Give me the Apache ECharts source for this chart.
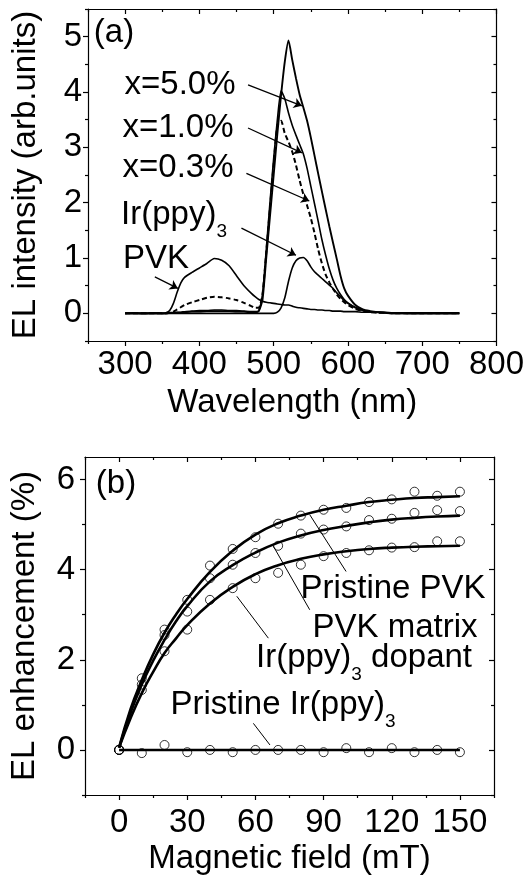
<!DOCTYPE html>
<html>
<head>
<meta charset="utf-8">
<script src="https://cdn.jsdelivr.net/npm/echarts@6/dist/echarts.min.js"></script>
<style>
  html, body { margin: 0; padding: 0; background: #fff; }
  #chart { width: 527px; height: 876px; }
</style>
</head>
<body>
<div id="chart"></div>
<script>
// ---------- (a) EL spectra ----------
const wavelength = [300,310,320,330,340,350,355,360,365,370,375,380,390,400,410,420,430,440,450,460,470,475,480,485,490,495,500,505,510,515,520,525,530,535,540,545,550,555,560,565,570,575,580,585,590,595,600,610,620,630,640,650,660,680,700,720,750];
const elPVK  = [0.00,0.01,0.00,0.00,0.01,0.00,0.01,0.05,0.18,0.38,0.55,0.65,0.74,0.82,0.90,0.99,0.96,0.86,0.68,0.50,0.36,0.30,0.25,0.22,0.20,0.19,0.18,0.17,0.16,0.15,0.15,0.13,0.11,0.10,0.09,0.08,0.07,0.07,0.06,0.06,0.05,0.05,0.04,0.04,0.04,0.03,0.03,0.03,0.02,0.02,0.02,0.02,0.01,0.01,0.01,0.01,0.01];
const elIr   = [0.00,0.00,0.00,0.00,0.00,0.00,0.00,0.00,0.00,0.00,0.00,0.00,0.00,0.00,0.00,0.00,0.00,0.00,0.00,0.00,0.00,0.00,0.00,0.00,0.00,0.00,0.00,0.02,0.10,0.28,0.58,0.82,0.95,1.00,1.01,0.95,0.84,0.75,0.69,0.63,0.57,0.51,0.45,0.37,0.30,0.23,0.18,0.10,0.05,0.03,0.02,0.01,0.01,0.00,0.00,0.00,0.00];
const elX03  = [0.00,0.00,0.00,0.00,0.00,0.00,0.00,0.01,0.03,0.07,0.11,0.15,0.20,0.24,0.28,0.30,0.29,0.27,0.24,0.19,0.13,0.10,0.10,0.35,1.10,1.90,2.70,3.40,3.48,3.25,3.10,2.92,2.68,2.40,2.15,1.95,1.72,1.45,1.15,0.90,0.70,0.56,0.44,0.34,0.26,0.20,0.15,0.08,0.04,0.02,0.01,0.01,0.00,0.00,0.00,0.00,0.00];
const elX10  = [0.00,0.00,0.00,0.00,0.00,0.00,0.00,0.01,0.01,0.02,0.02,0.03,0.04,0.05,0.05,0.06,0.06,0.05,0.05,0.04,0.03,0.03,0.05,0.35,1.15,2.00,2.80,3.50,4.02,3.88,3.62,3.40,3.22,3.05,2.88,2.62,2.30,1.98,1.66,1.33,1.05,0.80,0.60,0.45,0.34,0.25,0.19,0.11,0.06,0.03,0.02,0.01,0.00,0.00,0.00,0.00,0.00];
const elX50  = [0.00,0.00,0.00,0.00,0.00,0.00,0.00,0.01,0.01,0.01,0.01,0.02,0.03,0.03,0.04,0.04,0.04,0.04,0.03,0.03,0.02,0.02,0.04,0.25,1.00,1.75,2.50,3.25,3.95,4.55,4.93,4.58,4.25,3.95,3.72,3.48,3.18,2.85,2.52,2.20,1.88,1.57,1.27,0.98,0.68,0.45,0.32,0.15,0.07,0.04,0.02,0.01,0.00,0.00,0.00,0.00,0.00];
const wlMajorTicks  = [300,400,500,600,700,800];
const wlMinorTicks  = [250,350,450,550,650,750];
const elMajorTicks  = [0,1,2,3,4,5];
const elMinorTicks  = [-0.5,0.5,1.5,2.5,3.5,4.5,5.5];

// ---------- (b) magnetic-field dependence ----------
const field       = [0,10,20,30,40,50,60,70,80,90,100,110,120,130,140,150];
const mfePVK      = [0,1.59,2.67,3.33,4.09,4.46,4.72,5.02,5.20,5.33,5.37,5.50,5.56,5.73,5.64,5.73];
const mfeMatrix   = [0,1.45,2.55,3.07,3.81,4.11,4.37,4.53,4.80,4.89,4.96,5.10,5.13,5.26,5.32,5.30];
const mfeDopant   = [0,1.33,2.19,2.67,3.33,3.59,3.81,3.93,4.11,4.30,4.37,4.43,4.49,4.50,4.63,4.63];
const mfeIr       = [0,-0.07,0.11,-0.05,0.00,-0.05,0.00,0.00,0.00,-0.05,0.04,-0.05,0.04,-0.05,0.00,-0.05];
const fitField    = [0,5,10,15,20,25,30,40,50,60,70,80,90,100,110,120,130,140,150];
const fitPVK      = [0.05,0.90,1.55,2.12,2.60,3.00,3.35,3.95,4.42,4.78,5.03,5.20,5.33,5.42,5.50,5.55,5.59,5.61,5.63];
const fitMatrix   = [0.05,0.82,1.45,1.98,2.44,2.85,3.19,3.74,4.10,4.38,4.60,4.76,4.88,4.97,5.05,5.11,5.15,5.18,5.20];
const fitDopant   = [0.05,0.70,1.26,1.73,2.15,2.47,2.77,3.25,3.62,3.90,4.10,4.24,4.34,4.41,4.46,4.49,4.51,4.52,4.53];
const fitIrField  = [0,150];
const fitIr       = [0,0];
const fieldMajorTicks = [0,30,60,90,120,150];
const fieldMinorTicks = [-15,15,45,75,105,135,165];
const enhMajorTicks   = [0,2,4,6];
const enhMinorTicks   = [-1,1,3,5];

const FONT = 'Liberation Sans';
const FS = 33;
const black = '#000';
const lineStyle = { color: black, width: 1.2 };

function pairs(xs, ys) { return xs.map((x, i) => [x, ys[i]]); }

// four axes per side: main (labels + major ticks), minor ticks, mirrored major, mirrored minor
function makeAxes(kind, grid, min, max, major, minor, name, nameGap, labelMargin) {
  const near = kind === 'x' ? 'bottom' : 'left';
  const far  = kind === 'x' ? 'top' : 'right';
  const base = { type: 'value', gridIndex: grid, min: min, max: max, splitLine: { show: false } };
  const label = { show: true, customValues: major, margin: labelMargin, color: black, fontFamily: FONT, fontSize: FS };
  return [
    Object.assign({}, base, {
      position: near,
      axisLine: { show: true, onZero: false, lineStyle: lineStyle },
      axisTick: { show: true, inside: false, length: 5, customValues: major, lineStyle: lineStyle },
      axisLabel: label,
      name: name, nameLocation: 'middle', nameGap: nameGap,
      nameTextStyle: { color: black, fontFamily: FONT, fontSize: FS }
    }),
    Object.assign({}, base, {
      position: near,
      axisLine: { show: false, onZero: false },
      axisTick: { show: true, inside: false, length: 3, customValues: minor, lineStyle: lineStyle },
      axisLabel: { show: false }
    }),
    Object.assign({}, base, {
      position: far,
      axisLine: { show: true, onZero: false, lineStyle: lineStyle },
      axisTick: { show: true, inside: true, length: 5, customValues: major, lineStyle: lineStyle },
      axisLabel: { show: false }
    }),
    Object.assign({}, base, {
      position: far,
      axisLine: { show: false, onZero: false },
      axisTick: { show: true, inside: true, length: 3, customValues: minor, lineStyle: lineStyle },
      axisLabel: { show: false }
    })
  ];
}

const xAxes = [].concat(
  makeAxes('x', 0, 250, 800, wlMajorTicks, wlMinorTicks, 'Wavelength (nm)', 45, 7),
  makeAxes('x', 1, -15, 165, fieldMajorTicks, fieldMinorTicks, 'Magnetic field (mT)', 47, 11)
);
const yAxes = [].concat(
  makeAxes('y', 0, -0.5, 5.5, elMajorTicks, elMinorTicks, 'EL intensity (arb.units)', 46, 6),
  makeAxes('y', 1, -1, 6.5, enhMajorTicks, enhMinorTicks, 'EL enhancement (%)', 44, 10)
);

function arrows(list) {
  return {
    silent: true, animation: false,
    symbol: ['none', 'arrow'], symbolSize: 8,
    lineStyle: { color: black, width: 1.3, type: 'solid' },
    itemStyle: { color: black },
    label: { show: false },
    emphasis: { disabled: true },
    data: list.map(p => [{ coord: p[0] }, { coord: p[1] }])
  };
}
function leaders(list) {
  const m = arrows(list);
  m.symbol = ['none', 'none'];
  m.lineStyle = { color: black, width: 1, type: 'solid' };
  return m;
}

function spectrum(values, dashed, extra) {
  return Object.assign({
    type: 'line', xAxisIndex: 0, yAxisIndex: 0,
    data: pairs(wavelength, values),
    showSymbol: false, symbol: 'none', smooth: 0.2,
    lineStyle: { color: black, width: dashed ? 2 : 1.6, type: dashed ? [5, 3] : 'solid' },
    z: 3
  }, extra || {});
}

function points(values) {
  return {
    type: 'scatter', xAxisIndex: 4, yAxisIndex: 4,
    data: pairs(field, values),
    symbol: 'circle', symbolSize: 9,
    itemStyle: { color: 'rgba(255,255,255,0)', borderColor: black, borderWidth: 1 },
    z: 2
  };
}
function fit(xs, values, extra) {
  return Object.assign({
    type: 'line', xAxisIndex: 4, yAxisIndex: 4,
    data: pairs(xs, values),
    showSymbol: false, symbol: 'none', smooth: true,
    lineStyle: { color: black, width: 2.6 },
    z: 3
  }, extra || {});
}

function text(str, x, y, align) {
  return {
    type: 'text', x: x, y: y, silent: true,
    style: {
      text: str, fill: black, font: FS + 'px "' + FONT + '"',
      align: align || 'center', verticalAlign: 'middle', lineHeight: 52,
      rich: { s: { fontSize: 19, fontFamily: FONT, lineHeight: 18, verticalAlign: 'bottom', fill: black } }
    }
  };
}

const option = {
  animation: false,
  backgroundColor: '#fff',
  grid: [
    { left: 88, top: 9, width: 410, height: 332 },
    { left: 82, top: 457, width: 412, height: 338 }
  ],
  xAxis: xAxes,
  yAxis: yAxes,
  series: [
    spectrum(elPVK, false, {
      markLine: arrows([[[340, 0.66], [371, 0.45]]])
    }),
    spectrum(elIr, false, {
      markLine: arrows([[[456.6, 1.54], [530, 1.05]]])
    }),
    spectrum(elX03, true, {
      markLine: arrows([[[463.3, 2.53], [548, 2.03]]])
    }),
    spectrum(elX10, false, {
      markLine: arrows([[[465.5, 3.35], [538, 2.90]]])
    }),
    spectrum(elX50, false, {
      lineStyle: { color: black, width: 1.9 },
      markLine: arrows([[[465.5, 4.13], [538, 3.75]]])
    }),
    points(mfePVK),
    points(mfeMatrix),
    points(mfeDopant),
    points(mfeIr),
    fit(fitField, fitPVK, { markLine: leaders([[[83.9, 5.22], [99.9, 3.96]]]) }),
    fit(fitField, fitMatrix, { markLine: leaders([[[67.9, 4.52], [83.9, 3.11]]]) }),
    fit(fitField, fitDopant, { markLine: leaders([[[51.8, 3.41], [65.7, 2.48]]]) }),
    fit(fitIrField, fitIr, { smooth: false, markLine: leaders([[[59.1, 0.59], [66.4, 0.11]]]) })
  ],
  graphic: [
    text('(a)', 114, 33),
    text('x=5.0%', 180, 85),
    text('x=1.0%', 178, 128),
    text('x=0.3%', 178, 168),
    text('Ir(ppy){s|3}', 174, 215),
    text('PVK', 156, 259),
    text('(b)', 116, 484),
    text('Pristine PVK', 393, 589),
    text('PVK matrix', 395, 628),
    text('Ir(ppy){s|3} dopant', 364, 658),
    text('Pristine Ir(ppy){s|3}', 283, 705)
  ]
};

const chart = echarts.init(document.getElementById('chart'), null, { renderer: 'canvas' });
chart.setOption(option);
</script>
</body>
</html>
